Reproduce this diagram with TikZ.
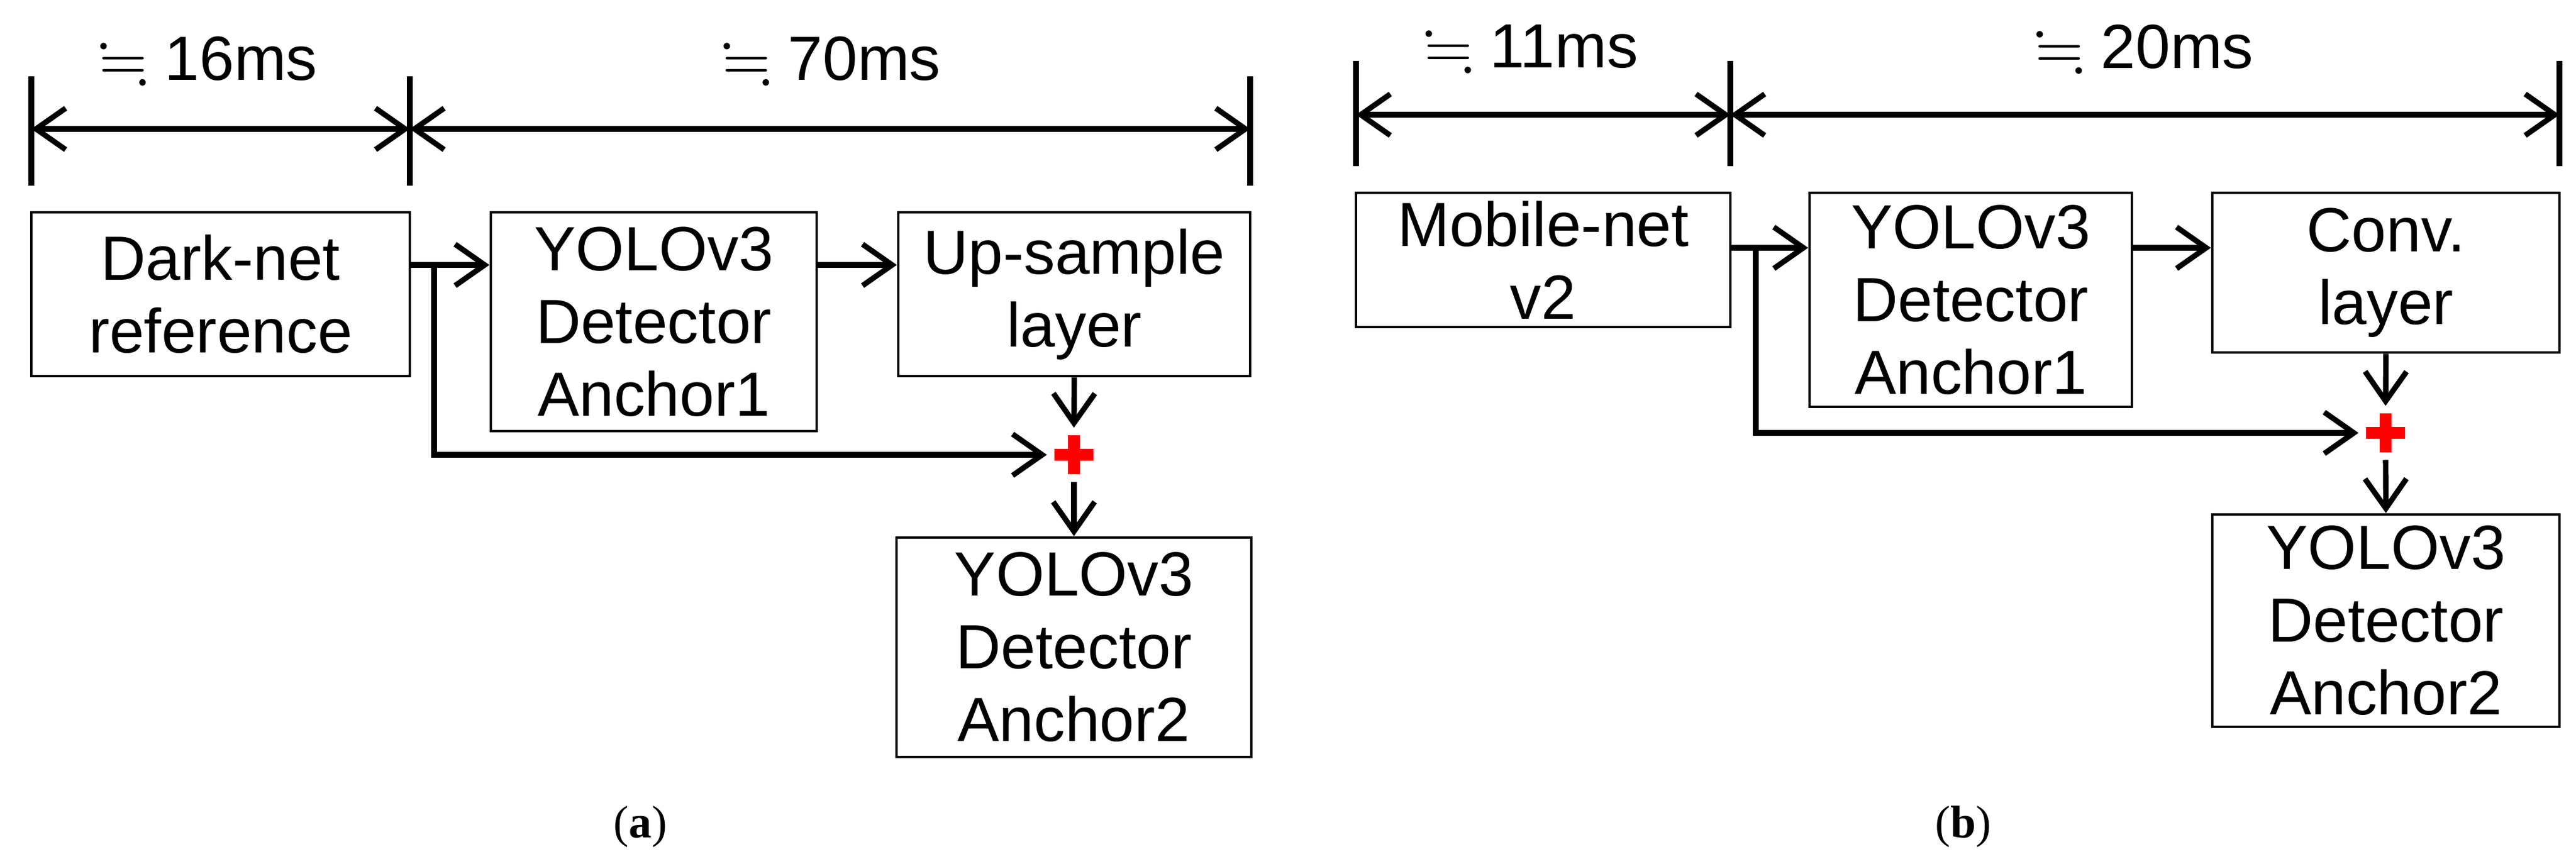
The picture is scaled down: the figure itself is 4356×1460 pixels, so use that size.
\documentclass[tikz,border=0pt]{standalone}
\usepackage{amssymb}
\usepackage{fontspec}
\setmainfont{Liberation Sans}
\newfontfamily\capfont{Liberation Serif}
\usetikzlibrary{arrows.meta,positioning}

\begin{document}
\begin{tikzpicture}[
    x=0.01cm, y=-0.01cm,
    box/.style={
        rectangle, draw, line width=1.3pt, inner sep=0pt,
        align=center, font=\fontsize{30}{35}\selectfont
    },
    arrow/.style={-{Straight Barb[length=5mm, width=7mm]}, line width=2.6pt},
    span/.style={{Straight Barb[length=5mm, width=7mm]}-{Straight Barb[length=5mm, width=7mm]}, line width=2.6pt},
    tick/.style={line width=2.6pt},
    lbl/.style={font=\fontsize{30}{35}\selectfont},
    sum/.style={minimum size=0.9cm, inner sep=0pt,
        path picture={\draw[red, line width=5.5pt]
            ([xshift=-0.33cm]path picture bounding box.center) -- ([xshift=0.33cm]path picture bounding box.center)
            ([yshift=-0.33cm]path picture bounding box.center) -- ([yshift=0.33cm]path picture bounding box.center);}},
    subcap/.style={font=\capfont\fontsize{22}{26}\selectfont}
]
\useasboundingbox (0,0) rectangle (4356,1460);

% Panel (a): timing bars
\coordinate (a0) at (53,218);
\coordinate (a1) at (693,218);
\coordinate (a2) at (2114,218);
\foreach \t in {a0,a1,a2}
    \draw[tick] ([yshift=0.89cm]\t) -- ([yshift=-0.96cm]\t);
\draw[span] (a0) -- (a1);
\draw[span] (a1) -- (a2);
\node[lbl] (ta1) at (352,103) {$\fallingdotseq$ 16ms};
\node[lbl] (ta2) at (1406,103) {$\fallingdotseq$ 70ms};

% Panel (a): blocks
\node[box, minimum width=6.4cm, minimum height=2.77cm] (dark) at (373,497.5) {Dark-net\\reference};
\node[box, minimum width=5.51cm, minimum height=3.7cm] (yoloA) at (1105.5,544) {YOLOv3\\Detector\\Anchor1};
\node[box, minimum width=5.95cm, minimum height=2.77cm] (up) at (1816.5,497.5) {Up-sample\\layer};
\node[sum] (sumA) at (1816,769) {};
\node[box, minimum width=6.0cm, minimum height=3.71cm] (yoloB) at (1816,1094.5) {YOLOv3\\Detector\\Anchor2};
\coordinate (splitA) at (734,448);

\draw[arrow] (dark.east |- splitA) -- (yoloA.west |- splitA);
\draw[arrow] (yoloA.east |- splitA) -- (up.west |- splitA);
\draw[arrow] (splitA) |- (sumA.west);
\draw[arrow] (up.south) -- (sumA.north);
\draw[arrow] (sumA.south) -- (yoloB.north);
\node[subcap] (capA) at (1083,1398) {(\textbf{a})};

% Panel (b): timing bars
\coordinate (b0) at (2293,194);
\coordinate (b1) at (2926,194);
\coordinate (b2) at (4328,194);
\foreach \t in {b0,b1,b2}
    \draw[tick] ([yshift=0.91cm]\t) -- ([yshift=-0.87cm]\t);
\draw[span] (b0) -- (b1);
\draw[span] (b1) -- (b2);
\node[lbl] (tb1) at (2589,83) {$\fallingdotseq$ 11ms};
\node[lbl] (tb2) at (3626,83) {$\fallingdotseq$ 20ms};

% Panel (b): blocks
\node[box, minimum width=6.33cm, minimum height=2.27cm] (mobile) at (2609.5,439.5) {Mobile-net\\v2};
\node[box, minimum width=5.45cm, minimum height=3.62cm] (yoloC) at (3332.5,507) {YOLOv3\\Detector\\Anchor1};
\node[box, minimum width=5.87cm, minimum height=2.7cm] (conv) at (4034.5,461) {Conv.\\layer};
\node[sum] (sumB) at (4034,732) {};
\node[box, minimum width=5.87cm, minimum height=3.59cm] (yoloD) at (4034.5,1049.5) {YOLOv3\\Detector\\Anchor2};
\coordinate (splitB) at (2969,419);

\draw[arrow] (mobile.east |- splitB) -- (yoloC.west |- splitB);
\draw[arrow] (yoloC.east |- splitB) -- (conv.west |- splitB);
\draw[arrow] (splitB) |- (sumB.west);
\draw[arrow] (conv.south) -- (sumB.north);
\draw[arrow] (sumB.south) -- (yoloD.north);
\node[subcap] (capB) at (3320,1398) {(\textbf{b})};
\end{tikzpicture}
\end{document}
